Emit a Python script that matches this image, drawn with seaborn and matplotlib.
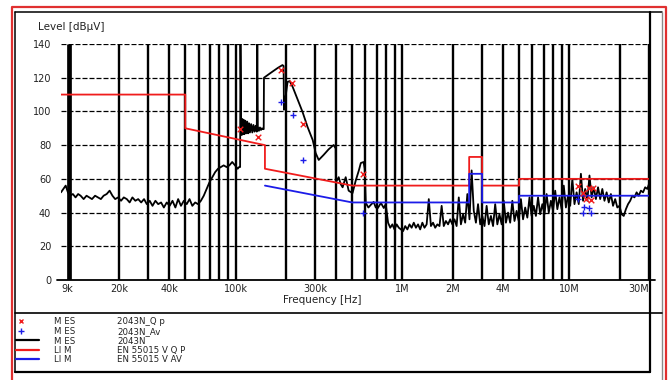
import numpy as np
import matplotlib
matplotlib.use("Agg")
import matplotlib.pyplot as plt
from matplotlib.ticker import NullLocator
import seaborn as sns

# ---------------------------------------------------------------------------
# Peak scan of conductor N (frequency in kHz, level in dBµV)
# ---------------------------------------------------------------------------
scan_khz = [
    9.0, 9.3, 9.6, 9.9, 10.2, 10.6, 11.0, 11.4, 11.8, 12.3, 12.8, 13.3, 13.8, 14.4,
    15.0, 15.6, 16.2, 16.9, 17.6, 18.3, 19.0, 19.8, 20.6, 21.4, 22.3, 23.2, 24.1,
    25.1, 26.1, 27.2, 28.3, 29.4, 30.6, 31.8, 33.1, 34.4, 35.8, 37.2, 38.7, 40.3,
    41.9, 43.6, 45.3, 47.1, 49.0, 51.0, 53.0, 55.1, 57.3, 59.6, 62.0, 64.5, 67.1,
    69.8, 72.6, 75.5, 78.5, 81.6, 84.9, 88.3, 91.8, 95.5, 99.3, 103.0, 105.0, 106.5,
    107.0, 108.0, 109, 110, 111, 112, 113, 114.5, 116, 117.5, 119, 120.5, 122, 124,
    126, 128, 130, 132, 134, 135, 136, 138, 140, 142, 144, 146, 147.5, 148, 162,
    179, 191, 194, 195, 199, 205, 211, 220, 236, 252, 270, 290, 302, 315, 337, 361,
    387, 398, 399, 415, 426, 438, 457, 476, 502, 525, 548, 563, 585, 594, 603, 625,
    645, 672, 692, 712, 743, 773, 794, 810,
    820, 845, 870, 896, 923, 951, 980, 1009, 1039, 1070, 1102, 1135, 1169, 1204,
    1240, 1277, 1316, 1355, 1396, 1438, 1481, 1525, 1571, 1618, 1667, 1717, 1768,
    1821, 1876, 1932, 1990, 2050, 2111, 2175, 2240, 2307, 2376, 2448, 2521, 2597,
    2675, 2755, 2837, 2923, 3010, 3101, 3194, 3289, 3388, 3490, 3594, 3702, 3813,
    3928, 4045, 4167, 4292, 4420, 4553, 4690, 4830, 4975, 5125, 5278, 5437, 5600,
    5768, 5941, 6119, 6303, 6492, 6687, 6887, 7094, 7307, 7526, 7752, 7984, 8224,
    8470, 8725, 8986, 9256, 9534, 9820, 10114, 10418, 10730, 11052, 11384, 11725,
    12077, 12439, 12813, 13197, 13593, 14001, 14421, 14853, 15299, 15758, 16231,
    16717, 17219, 17735, 18267, 18815, 19380, 19961, 20560, 21177, 21812, 22467,
    23141, 23835, 24550, 25286, 26045, 26826, 27631, 28460, 29314, 30000,
]
scan_dbuv = [
    52, 54, 56, 52, 50, 51, 49, 51, 50, 48, 50, 49, 48, 50,
    49, 48, 50, 51, 53, 50, 48, 49, 47, 49, 48, 46, 49,
    47, 48, 46, 48, 45, 47, 44, 47, 45, 46, 43, 46, 44,
    47, 43, 48, 44, 47, 45, 48, 44, 46, 45, 47, 50, 54,
    58, 61, 64, 66, 67, 68, 67, 68, 70, 68, 66, 67, 67,
    145, 96, 86, 95.5, 86.5, 95, 86.5, 94.5, 87, 94, 87, 93, 87.5, 92.5,
    87.5, 92, 88, 91.5, 88, 145, 91, 88.5, 90.5, 89, 90, 89.5, 89.5, 120, 122.8,
    125.8, 127.5, 127, 101, 108, 117.5, 118, 114.5, 106.8, 99.7, 90.8, 83, 75.3, 71.2, 74.2, 77.5,
    80.1, 78, 58, 61, 57, 55, 61, 53, 51.5, 59, 65, 69.4, 70, 66, 45.7, 43,
    44.5, 46.3, 43, 42.7, 45.7, 42.7, 45, 38,
    34, 31, 33, 30, 33, 31, 30, 29, 32, 30, 33, 31, 34, 31,
    33, 30, 34, 31, 33, 48, 32, 34, 31, 33, 32, 44, 32,
    35, 33, 36, 33, 36, 32, 49, 33, 39, 34, 51, 36, 65,
    41, 34, 45, 33, 38, 32, 44, 33, 38, 32, 45, 33, 39,
    33, 47, 34, 40, 34, 47, 35, 41, 35, 48, 36, 43, 37,
    49, 38, 44, 38, 49, 39, 45, 39, 51, 40, 47, 41, 53,
    42, 49, 42, 56, 43, 50, 44, 60, 45, 52, 45, 63,
    47, 54, 47, 62, 49, 55, 48, 55, 48, 54, 47,
    52, 46, 51, 44, 48, 43, 44, 39, 38, 42, 45,
    47, 50, 49, 52, 50, 53, 52, 55, 54, 57,
]

# Final measurements: quasi-peak and average detector
qp_khz = [107, 135.5, 186, 217, 252, 579, 11300, 12100, 12600, 13200, 13500, 13900]
qp_dbuv = [89.5, 85, 124.6, 117, 92.5, 63, 55.8, 51.6, 48, 54.6, 47.5, 54.6]
av_khz = [186, 220, 252, 579, 11300, 12100, 12300, 13200, 13500]
av_dbuv = [105.6, 97.9, 71.2, 39.7, 48, 39.7, 43.5, 43, 40]

# EN 55015 limit lines (kHz, dBµV)
qp_lim_khz = [9, 50, 50, 150, 150, 500, 2510, 2510, 3000, 3000, 5000, 5000, 30000]
qp_lim_dbuv = [110, 110, 90, 80, 66, 56, 56, 73, 73, 56, 56, 60, 60]
av_lim_khz = [150, 500, 2510, 2510, 3000, 3000, 5000, 5000, 30000]
av_lim_dbuv = [56, 46, 46, 63, 63, 46, 46, 50, 50]

# Axis annotation
x_tick_khz = [9, 20, 40, 100, 300, 1000, 2000, 4000, 10000, 30000]
x_tick_labels = ["9k", "20k", "40k", "100k", "300k", "1M", "2M", "4M", "10M", "30M"]
y_ticks = [0, 20, 40, 60, 80, 100, 120, 140]

legend_rows = [
    ("M ES", "2043N_Q p"),
    ("M ES", "2043N_Av"),
    ("M ES", "2043N"),
    ("LI M", "EN 55015 V Q P"),
    ("LI M", "EN 55015 V AV"),
]

RED = "#f01c1c"
BLUE = "#1c1ce8"
TXT = "#222222"

sns.set_style("white")
plt.rcParams["font.family"] = ["DejaVu Sans"]

W, H = 670, 380
fig = plt.figure(figsize=(W / 100, H / 100), dpi=100)
fig.patch.set_facecolor("white")

ax = fig.add_axes([61 / W, 1 - 280 / H, (649 - 61) / W, 236 / H])
ax.set_facecolor("none")
ax.set_xscale("log")
ax.set_xlim(9e3, 30e6)
ax.set_ylim(0, 140)

# decade grid: solid verticals at 1..9 x 10^n
grid_hz = [m * 10.0 ** e for e in (4, 5, 6) for m in range(1, 10)] + [1e7, 2e7, 3e7]
ax.vlines(grid_hz[1:], 0, 140, colors="k", lw=1.7, zorder=1)
ax.vlines([grid_hz[0]], 0, 140, colors="k", lw=3.4, zorder=1)
for v in y_ticks[1:]:
    ax.axhline(v, color="k", lw=0.9, ls=(0, (4, 1.6)), zorder=1.5)

to_hz = lambda seq: np.asarray(seq, dtype=float) * 1e3

sns.lineplot(x=to_hz(scan_khz), y=scan_dbuv, sort=False, estimator=None,
             color="black", lw=1.3, ax=ax, zorder=3)
sns.lineplot(x=to_hz(qp_lim_khz), y=qp_lim_dbuv, sort=False, estimator=None,
             color=RED, lw=1.3, ax=ax, zorder=4)
sns.lineplot(x=to_hz(av_lim_khz), y=av_lim_dbuv, sort=False, estimator=None,
             color=BLUE, lw=1.3, ax=ax, zorder=4)
sns.scatterplot(x=to_hz(qp_khz), y=qp_dbuv, marker="x", color=RED, s=16,
                linewidth=1.0, ax=ax, zorder=5)
sns.scatterplot(x=to_hz(av_khz), y=av_dbuv, marker="+", color=BLUE, s=20,
                linewidth=1.0, ax=ax, zorder=5)

for s in ax.spines.values():
    s.set_visible(False)
ax.set_xlabel("")
ax.set_ylabel("")
ax.set_xticks(to_hz(x_tick_khz))
ax.set_xticklabels(x_tick_labels)
ax.xaxis.set_minor_locator(NullLocator())
ax.set_yticks(y_ticks)
ax.tick_params(axis="x", length=0, pad=3, labelsize=7, labelcolor=TXT)
ax.tick_params(axis="y", length=4, width=1, color="k", pad=3, labelsize=7,
               labelcolor=TXT)
xl = ax.get_xticklabels()
xl[0].set_ha("left")
xl[-1].set_ha("right")

# page furniture and legend in pixel coordinates
ov = fig.add_axes([0, 0, 1, 1], zorder=10)
ov.set_xlim(0, W)
ov.set_ylim(H, 0)
ov.axis("off")
ov.patch.set_alpha(0)

ov.plot([12, 12, 666, 666], [383, 7, 7, 383], color="#e03030", lw=1.6)
ov.plot([15, 662], [12, 12], color="k", lw=1.1)
ov.plot([15, 15], [12, 372], color="k", lw=1.1)
ov.plot([662, 662], [12, 383], color="#8a8a8a", lw=1.0)
ov.plot([649.5, 649.5], [12, 372], color="k", lw=1.6)
ov.plot([15, 650], [372, 372], color="k", lw=1.6)
ov.plot([15, 662], [313, 313], color="k", lw=1.2)
ov.plot([57, 655], [280, 280], color="k", lw=1.3)

ov.text(38, 27, "Level [dBµV]", fontsize=7.5, ha="left", va="center", color=TXT)
ov.text(322, 300, "Frequency [Hz]", fontsize=7.5, ha="center", va="center", color=TXT)

row_y = [321, 330.5, 340, 349.5, 359]
ov.plot([21], [row_y[0]], marker="x", ms=3.5, mew=1.0, color=RED, ls="none")
ov.plot([21], [row_y[1]], marker="+", ms=4, mew=1.0, color=BLUE, ls="none")
ov.plot([16, 39], [row_y[2]] * 2, color="black", lw=1.6)
ov.plot([16, 39], [row_y[3]] * 2, color=RED, lw=1.6)
ov.plot([16, 39], [row_y[4]] * 2, color=BLUE, lw=1.6)
for y, (kind, name) in zip(row_y, legend_rows):
    ov.text(54, y, kind, fontsize=6.2, ha="left", va="center_baseline", color=TXT)
    ov.text(117, y, name, fontsize=6.2, ha="left", va="center_baseline", color=TXT)

fig.savefig("out.png", dpi=100)
